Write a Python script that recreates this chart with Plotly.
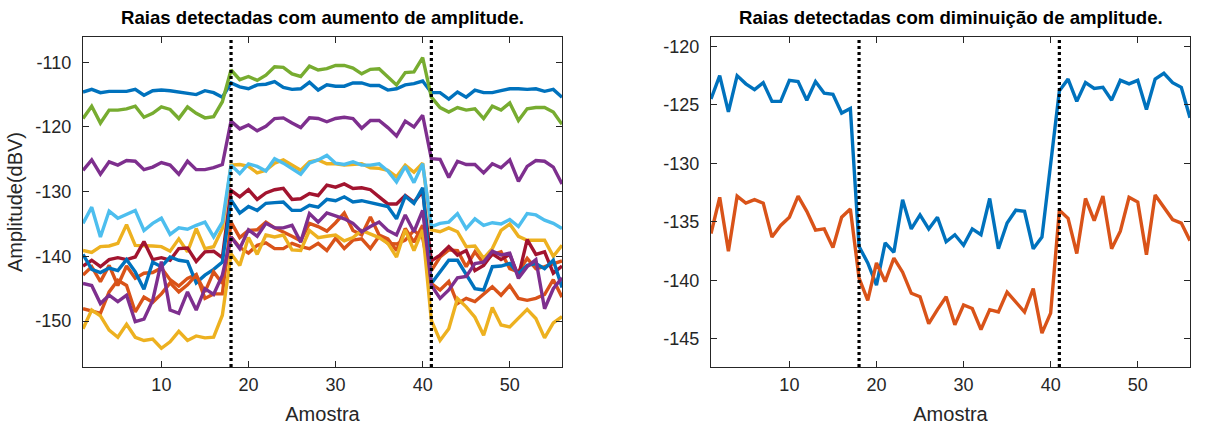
import plotly.graph_objects as go

# sample index (Amostra)
samples = list(range(1, 57))
transition_samples = [18, 41]

# left panel: lines that rise in amplitude (dBV)
up_blue_top = [-114.6, -114.2, -114.7, -114.5, -114.5, -114.5, -114.2, -115.1, -114.4, -114.3,
               -114.4, -114.6, -114.7, -115.0, -114.4, -114.7, -115.4, -113.2, -113.8, -114.1,
               -113.5, -113.4, -113.0, -113.9, -114.2, -114.1, -113.1, -114.3, -113.5, -113.7,
               -113.7, -113.2, -113.2, -113.6, -113.6, -114.3, -114.1, -113.5, -113.3, -112.9,
               -114.7, -114.7, -115.7, -114.6, -115.4, -114.3, -114.7, -114.7, -114.4, -114.1,
               -114.1, -114.2, -114.1, -114.5, -114.2, -115.4]
up_orange_a = [-142.9, -141.6, -143.9, -141.4, -144.5, -141.5, -143.4, -142.6, -142.5, -141.8,
               -143.6, -144.6, -143.4, -142.8, -146.5, -145.8, -145.8, -134.7, -137.1, -136.0,
               -135.9, -134.7, -135.6, -136.2, -136.9, -137.6, -134.9, -135.4, -136.1, -134.8,
               -133.3, -136.0, -136.7, -133.9, -136.7, -137.3, -139.1, -135.7, -137.8, -135.2,
               -142.2, -140.1, -139.0, -139.1, -141.6, -139.3, -141.1, -139.7, -139.3, -141.9,
               -142.4, -140.3, -141.9, -141.6, -141.1, -140.7]
up_yellow_a = [-139.1, -139.4, -138.5, -138.4, -138.0, -135.1, -138.3, -138.3, -138.4, -138.5,
               -139.2, -137.3, -139.3, -135.7, -138.8, -138.5, -135.7, -125.9, -125.8, -126.1,
               -127.1, -126.7, -125.6, -125.1, -125.9, -126.7, -125.4, -125.1, -125.7, -125.7,
               -125.9, -125.8, -125.7, -126.3, -126.4, -126.7, -127.7, -125.9, -127.0, -125.6,
               -135.9, -136.2, -135.6, -136.2, -138.5, -138.4, -140.3, -138.8, -136.0, -135.0,
               -136.9, -137.5, -137.5, -137.5, -140.0, -138.3]
up_purple_top = [-126.7, -125.1, -127.3, -125.4, -125.9, -125.2, -125.3, -126.6, -126.2, -125.5,
                 -125.9, -127.3, -125.3, -126.6, -126.6, -126.3, -125.8, -119.1, -120.3, -119.7,
                 -120.6, -119.9, -118.7, -118.6, -119.4, -120.1, -118.6, -118.7, -119.2, -118.7,
                 -118.5, -118.7, -120.2, -119.0, -119.0, -120.1, -121.4, -119.1, -120.0, -118.2,
                 -124.9, -125.0, -127.8, -125.3, -125.8, -125.8, -127.1, -125.7, -126.3, -125.1,
                 -128.4, -126.1, -125.2, -125.3, -126.2, -128.8]
up_green = [-118.7, -116.8, -119.4, -117.4, -117.4, -117.2, -116.8, -118.5, -117.9, -116.9,
            -117.3, -118.7, -116.9, -117.9, -118.6, -118.4, -116.1, -111.2, -112.7, -112.2,
            -112.8, -112.0, -110.7, -110.8, -111.8, -112.2, -110.6, -111.2, -111.0, -110.5,
            -110.5, -110.9, -111.8, -111.1, -111.0, -112.3, -113.5, -111.6, -111.5, -109.3,
            -115.4, -117.0, -117.7, -117.0, -117.4, -117.2, -118.7, -116.8, -117.4, -116.3,
            -119.0, -117.2, -117.0, -117.0, -117.7, -119.6]
up_lightblue = [-134.9, -132.4, -137.0, -133.0, -134.1, -133.5, -132.9, -136.0, -134.9, -134.1,
                -136.6, -135.6, -135.8, -135.2, -134.7, -137.0, -134.7, -125.9, -127.2, -125.7,
                -126.1, -126.8, -124.9, -125.6, -126.4, -127.3, -125.6, -125.1, -124.4, -125.6,
                -125.8, -125.4, -125.9, -125.9, -125.7, -126.8, -128.5, -126.1, -128.6, -125.7,
                -135.4, -134.9, -134.7, -133.4, -135.7, -134.2, -135.2, -134.8, -135.0, -134.3,
                -135.4, -133.4, -133.6, -134.4, -134.9, -135.7]
up_darkred = [-141.5, -140.6, -141.6, -140.5, -140.2, -140.5, -140.1, -137.7, -140.5, -140.2,
              -140.6, -138.8, -138.7, -140.8, -139.3, -139.2, -140.2, -129.8, -130.8, -129.7,
              -131.2, -130.2, -129.7, -129.5, -131.2, -131.1, -130.3, -130.6, -129.0, -129.3,
              -128.8, -129.5, -129.4, -129.7, -130.8, -131.9, -131.9, -130.6, -131.6, -130.0,
              -140.7, -139.8, -138.5, -139.8, -139.1, -142.2, -141.4, -139.6, -140.5, -139.7,
              -143.1, -137.4, -139.7, -139.3, -142.6, -141.5]
up_blue_low = [-139.7, -142.0, -142.5, -141.8, -142.2, -140.5, -142.4, -145.1, -140.9, -141.6,
               -140.1, -140.6, -140.8, -144.1, -142.9, -142.0, -140.9, -131.3, -133.3, -132.3,
               -132.9, -131.8, -131.7, -131.6, -132.9, -132.9, -132.1, -132.4, -131.2, -131.4,
               -130.8, -131.6, -131.4, -131.7, -132.1, -132.3, -134.2, -130.7, -131.8, -129.4,
               -144.2, -142.4, -140.6, -140.6, -142.9, -145.0, -145.2, -141.6, -141.5, -141.1,
               -142.7, -141.4, -141.1, -141.9, -140.6, -144.8]
up_orange_b = [-148.1, -148.5, -148.8, -145.5, -143.7, -144.5, -148.6, -146.3, -147.1, -145.8,
               -144.1, -145.5, -144.4, -142.9, -145.5, -142.4, -144.2, -137.0, -138.6, -139.5,
               -138.3, -137.9, -138.8, -138.8, -138.0, -138.5, -138.8, -138.0, -139.1, -137.2,
               -138.8, -137.5, -137.3, -138.8, -136.9, -138.0, -138.1, -137.5, -136.0, -137.1,
               -144.2, -145.2, -143.9, -147.3, -146.5, -147.0, -145.9, -144.7, -146.0, -144.5,
               -146.5, -146.8, -146.5, -145.9, -143.6, -146.3]
up_yellow_b = [-151.2, -148.3, -149.2, -151.4, -152.5, -150.5, -152.5, -153.0, -152.8, -154.2,
               -153.2, -151.6, -153.0, -152.3, -152.6, -152.5, -149.1, -139.6, -141.4, -137.1,
               -139.7, -136.7, -137.0, -136.7, -139.0, -139.1, -136.0, -137.1, -136.9, -136.7,
               -137.6, -137.1, -136.0, -136.5, -137.1, -138.0, -140.1, -135.9, -139.1, -135.9,
               -149.9, -153.0, -151.2, -146.5, -147.8, -149.4, -152.2, -147.9, -150.6, -150.9,
               -149.6, -148.2, -149.6, -152.6, -150.3, -149.3]
up_purple_low = [-144.2, -144.5, -147.3, -146.0, -147.0, -146.0, -150.1, -149.7, -146.8, -140.8,
                 -148.3, -148.8, -145.5, -148.3, -145.0, -145.9, -142.9, -137.0, -138.8, -135.9,
                 -136.9, -134.9, -135.6, -135.6, -135.2, -137.8, -133.4, -134.7, -133.3, -133.8,
                 -134.2, -134.9, -136.2, -135.4, -134.7, -136.0, -136.7, -133.6, -136.2, -132.9,
                 -144.5, -146.5, -145.2, -143.3, -143.1, -141.1, -140.9, -139.2, -139.8, -139.5,
                 -143.4, -141.6, -140.5, -148.1, -145.0, -143.3]

# right panel: lines that drop in amplitude (dBV)
down_blue = [-124.5, -122.5, -125.6, -122.5, -123.2, -123.7, -123.1, -124.7, -124.7, -122.9,
             -123.0, -124.6, -123.0, -124.0, -124.1, -125.7, -125.3, -137.1, -138.5, -140.4,
             -136.8, -137.6, -133.1, -135.6, -134.4, -135.6, -134.6, -136.7, -136.1, -137.0,
             -135.6, -136.1, -133.0, -137.3, -135.1, -134.0, -134.1, -137.3, -136.3, -130.3,
             -123.8, -122.8, -124.7, -123.1, -123.6, -123.5, -124.6, -122.9, -123.2, -122.9,
             -125.4, -122.8, -122.3, -123.1, -123.5, -126.1]
down_orange = [-136.0, -132.9, -137.5, -132.8, -133.4, -133.1, -133.4, -136.3, -135.3, -134.6,
               -132.8, -134.1, -135.7, -135.6, -137.2, -134.6, -133.9, -139.8, -141.7, -138.5,
               -140.1, -138.1, -139.3, -141.1, -141.4, -143.7, -142.5, -141.4, -143.8, -142.1,
               -142.4, -144.2, -142.5, -142.7, -141.0, -141.8, -142.7, -140.7, -144.5, -142.8,
               -134.0, -134.7, -137.7, -133.0, -134.9, -132.8, -137.3, -135.8, -132.9, -133.3,
               -137.8, -132.7, -133.8, -134.8, -135.1, -136.6]

titles = ['Raias detectadas com aumento de amplitude.',
          'Raias detectadas com diminuição de amplitude.']
x_label = 'Amostra'
y_label = 'Amplitude(dBV)'
x_ticks = [10, 20, 30, 40, 50]
left_y_ticks = [-150, -140, -130, -120, -110]
right_y_ticks = [-145, -140, -135, -130, -125, -120]

c_blue, c_orange, c_yellow, c_purple = '#0072BD', '#D95319', '#EDB120', '#7E2F8E'
c_green, c_lightblue, c_darkred = '#77AC30', '#4DBEEE', '#A2142F'

left_series = [
    (up_blue_top, c_blue), (up_orange_a, c_orange), (up_yellow_a, c_yellow),
    (up_purple_top, c_purple), (up_green, c_green), (up_lightblue, c_lightblue),
    (up_darkred, c_darkred), (up_blue_low, c_blue), (up_orange_b, c_orange),
    (up_yellow_b, c_yellow), (up_purple_low, c_purple),
]
right_series = [(down_blue, c_blue), (down_orange, c_orange)]

LW = 3.4
fig = go.Figure()
for vals, col in left_series:
    fig.add_trace(go.Scatter(x=samples, y=vals, mode='lines', line=dict(color=col, width=LW),
                             xaxis='x', yaxis='y', showlegend=False))
for vals, col in right_series:
    fig.add_trace(go.Scatter(x=samples, y=vals, mode='lines', line=dict(color=col, width=LW),
                             xaxis='x2', yaxis='y2', showlegend=False))

y_ranges = {'y': [-157.1, -106.1], 'y2': [-147.4, -119.2]}
for xa, ya in (('x', 'y'), ('x2', 'y2')):
    for t in transition_samples:
        fig.add_trace(go.Scatter(x=[t, t], y=y_ranges[ya], mode='lines',
                                 line=dict(color='black', width=3.2, dash='3px,3px'),
                                 xaxis=xa, yaxis=ya, showlegend=False))

FONT = 'Arial, Liberation Sans'
INK = '#262626'
axis_font = dict(family=FONT, size=18, color=INK)
common_x = dict(range=[1, 56], tickvals=x_ticks, ticktext=[str(v) for v in x_ticks],
                ticks='inside', ticklen=6, tickcolor=INK, showline=True, linecolor=INK,
                linewidth=1.3, mirror='ticks', showgrid=False, zeroline=False,
                tickfont=axis_font, ticklabelstandoff=1,
                title=dict(text=x_label, font=dict(family=FONT, size=20, color=INK), standoff=13))
common_y = dict(ticks='inside', ticklen=6, tickcolor=INK, showline=True, linecolor=INK,
                linewidth=1.3, mirror='ticks', showgrid=False, zeroline=False,
                tickfont=axis_font, ticklabelstandoff=7)

fig.update_layout(
    width=1209, height=428,
    margin=dict(l=0, r=0, t=0, b=0),
    plot_bgcolor='white', paper_bgcolor='white',
    xaxis=dict(domain=[83 / 1209, 562 / 1209], anchor='y', **common_x),
    xaxis2=dict(domain=[711 / 1209, 1190 / 1209], anchor='y2', **common_x),
    yaxis=dict(domain=[1 - 367 / 428, 1 - 37 / 428], anchor='x', range=y_ranges['y'],
               tickvals=left_y_ticks, ticktext=[str(v) for v in left_y_ticks],
               title=dict(text=y_label, font=dict(family=FONT, size=20, color=INK), standoff=7),
               **common_y),
    yaxis2=dict(domain=[1 - 367 / 428, 1 - 37 / 428], anchor='x2', range=y_ranges['y2'],
                tickvals=right_y_ticks, ticktext=[str(v) for v in right_y_ticks], **common_y),
)

for title, dom in zip(titles, ([83, 562], [711, 1190])):
    fig.add_annotation(text='<b>' + title + '</b>', xref='paper', yref='paper',
                       x=(dom[0] + dom[1]) / 2 / 1209, y=1 - 18 / 428,
                       xanchor='center', yanchor='middle', showarrow=False,
                       font=dict(family=FONT, size=18.6, color='black'))

fig.write_html('out.html', config={'displayModeBar': False},
               post_script="document.body.style.margin='0px';")
